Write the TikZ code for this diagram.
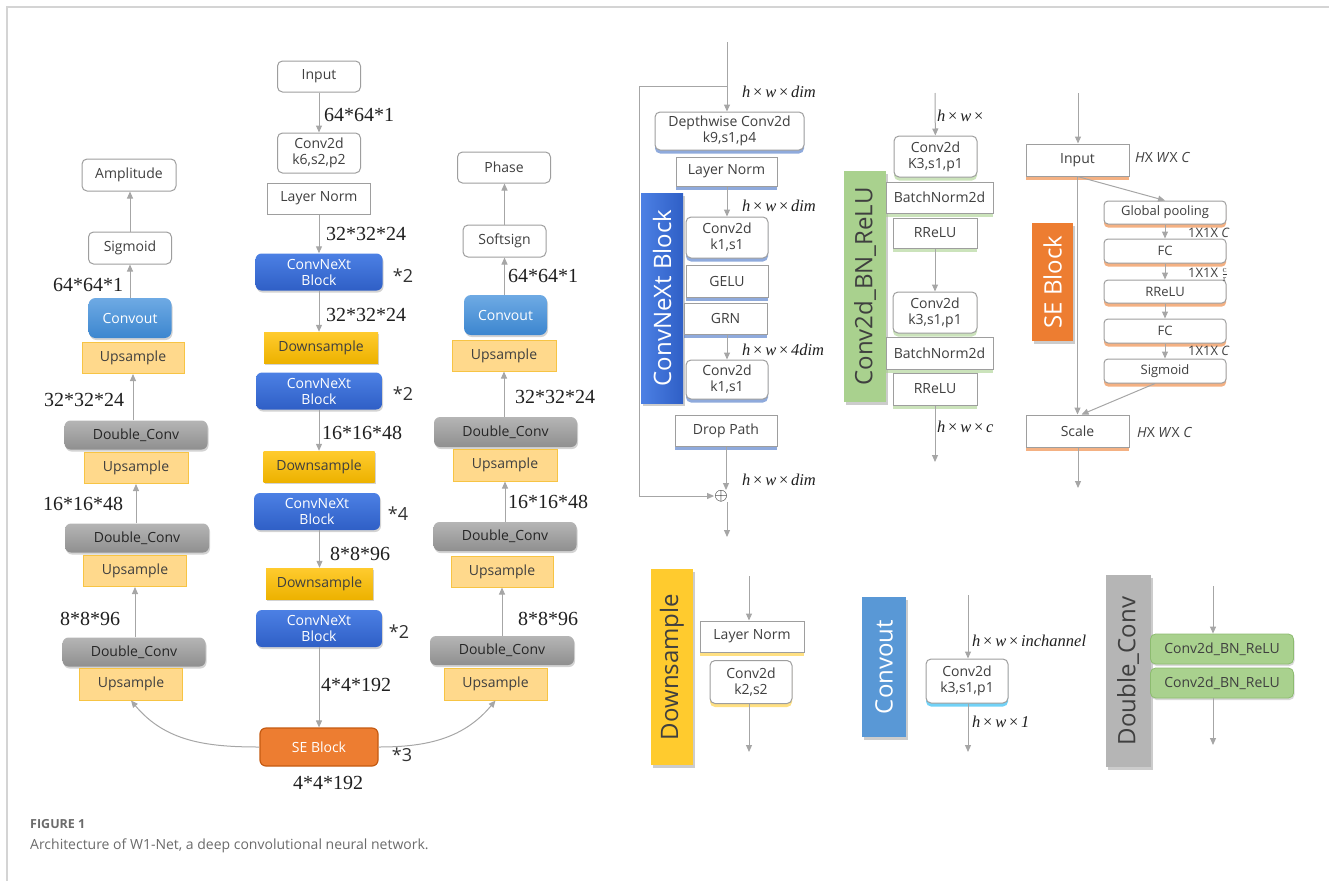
\documentclass[tikz,border=0pt]{standalone}
\usepackage{amsmath}
\usepackage{fontspec}
\setsansfont{Open Sans}
\newfontfamily\numfont{Liberation Serif}
\usepackage{tikz}
\usetikzlibrary{arrows.meta,shadows}
\definecolor{lineGray}{HTML}{A6A6A6}
\definecolor{edgeGray}{HTML}{9E9E9E}
\definecolor{frameGray}{HTML}{D4D4D4}
\definecolor{txtDark}{HTML}{3F3F3F}
\definecolor{capGray}{HTML}{6B6B6B}
\definecolor{upFill}{HTML}{FFD98C}
\definecolor{upEdge}{HTML}{F7C444}
\definecolor{dsTop}{HTML}{FFCB2E}
\definecolor{dsBot}{HTML}{EDB200}
\definecolor{cnTop}{HTML}{4C80E4}
\definecolor{cnBot}{HTML}{2F5FC6}
\definecolor{coTop}{HTML}{6EAAE4}
\definecolor{coBot}{HTML}{3C86CF}
\definecolor{dcTop}{HTML}{B5B5B5}
\definecolor{dcBot}{HTML}{8F8F8F}
\definecolor{seOrange}{HTML}{ED7D31}
\definecolor{seEdge}{HTML}{C55A11}
\definecolor{bnGreen}{HTML}{A9D18E}
\definecolor{bnEdge}{HTML}{8DBB70}
\definecolor{cxGlow}{HTML}{4472C4}
\definecolor{coGlow}{HTML}{12B4F2}
\newcommand{\boxfs}{\sffamily\fontsize{14}{16}\selectfont}
\newcommand{\smallfs}{\sffamily\fontsize{13}{15}\selectfont}
\newcommand{\numfs}{\numfont\fontsize{20}{22}\selectfont}
\newcommand{\repfs}{\sffamily\fontsize{18}{20}\selectfont}
\newcommand{\mathfs}{\numfont\itshape\fontsize{16.5}{18}\selectfont}
\newcommand{\barfs}{\sffamily\fontsize{24}{26}\selectfont}
\newcommand{\capfs}{\sffamily\fontsize{14}{16}\selectfont}
\newcommand{\tms}{\,{\upshape ×}\,}

\begin{document}
\begin{tikzpicture}[x=1pt,y=-1pt,
  every node/.style={inner sep=0pt},
  sz/.style 2 args={minimum width=#1,minimum height=#2},
  wbox/.style={draw=edgeGray,line width=1pt,fill=white,rounded corners=5pt,text=txtDark,font=\boxfs,align=center},
  sbox/.style={draw=edgeGray,line width=1pt,fill=white,text=txtDark,font=\boxfs,align=center},
  upbox/.style={draw=upEdge,line width=1pt,fill=upFill,text=txtDark,font=\boxfs},
  dsbox/.style={top color=dsTop,bottom color=dsBot,text=txtDark,font=\boxfs,
    drop shadow={opacity=.35,shadow xshift=1pt,shadow yshift=-2pt}},
  cnbox/.style={rounded corners=6pt,top color=cnTop,bottom color=cnBot,text=white,font=\boxfs,align=center,
    drop shadow={opacity=.35,shadow xshift=1pt,shadow yshift=-2pt}},
  cobox/.style={rounded corners=7pt,top color=coTop,bottom color=coBot,text=white,font=\boxfs,
    drop shadow={opacity=.35,shadow xshift=1pt,shadow yshift=-2pt}},
  dcbox/.style={rounded corners=6pt,top color=dcTop,bottom color=dcBot,text=black!85,font=\boxfs,
    drop shadow={opacity=.35,shadow xshift=1pt,shadow yshift=-2pt}},
  sebox/.style={rounded corners=6pt,fill=seOrange,draw=seEdge,line width=1.2pt,text=white,font=\boxfs},
  gbox/.style={rounded corners=5pt,fill=bnGreen,draw=bnEdge,line width=.8pt,text=txtDark,font=\boxfs,
    drop shadow={opacity=.3,shadow xshift=1pt,shadow yshift=-2pt}},
  glow/.style={drop shadow={fill=#1,opacity=.6,shadow xshift=0pt,shadow yshift=-3.5pt}},
  vbar/.style={rotate=90,font=\barfs,drop shadow={opacity=.4,shadow xshift=2pt,shadow yshift=-3pt}},
  numlbl/.style={font=\numfs,text=black!88},
  replbl/.style={font=\repfs,text=black!80},
  mlbl/.style={font=\mathfs,text=black!88,anchor=west},
  selbl/.style={font=\smallfs,text=txtDark,anchor=west},
  arr/.style={draw=lineGray,line width=1pt,-{Triangle[length=7pt,width=6pt]}}]
\useasboundingbox (0,0) rectangle (1329,881);
% frame
\draw[frameGray,line width=1.3pt] (1329,7)--(7,7)--(7,881);

% amplitude branch
\node[wbox,sz={94}{32}] (amp) at (129,175) {Amplitude};
\node[wbox,sz={83}{32}] (sgL) at (130,248) {Sigmoid};
\node[cobox,sz={83}{40}] (coL) at (130,318) {Convout};
\node[upbox,sz={102}{31}] (upL0) at (133,358) {Upsample};
\node[dcbox,sz={143}{29}] (dcL1) at (136,435) {Double\_Conv};
\node[upbox,sz={104}{31}] (upL1) at (136,468) {Upsample};
\node[dcbox,sz={144}{29}] (dcL2) at (137,538) {Double\_Conv};
\node[upbox,sz={103}{31}] (upL2) at (135,571) {Upsample};
\node[dcbox,sz={143}{29}] (dcL3) at (134,652) {Double\_Conv};
\node[upbox,sz={103}{32}] (upL3) at (131,684) {Upsample};
\draw[arr] (sgL.north) -- (sgL.north |- amp.south);
\draw[arr] (coL.north) -- (sgL.south);
\draw[arr] (upL0.south |- dcL1.north) -- (upL0.south);
\draw[arr] (upL1.south |- dcL2.north) -- (upL1.south);
\draw[arr] (upL2.south |- dcL3.north) -- (upL2.south);
\foreach \i/\x/\y/\t in {1/88/285/64*64*1, 2/84/400/32*32*24, 3/83/504/16*16*48, 4/90/619/8*8*96}
  \node[numlbl] (dL\i) at (\x,\y) {\t};

% encoder
\node[wbox,sz={83}{31}] (inp) at (319,76.5) {Input};
\node[wbox,sz={83}{40}] (cv0) at (319,153) {Conv2d\\k6,s2,p2};
\node[sbox,sz={103}{31}] (ln0) at (319,198.5) {Layer Norm};
\node[cnbox,sz={127}{37}] (cn1) at (319,272) {ConvNeXt\\Block};
\node[dsbox,sz={114}{31}] (ds1) at (321,347.5) {Downsample};
\node[cnbox,sz={126}{37}] (cn2) at (319,391) {ConvNeXt\\Block};
\node[dsbox,sz={111}{31}] (ds2) at (319,466.5) {Downsample};
\node[cnbox,sz={126}{37}] (cn3) at (317,511.5) {ConvNeXt\\Block};
\node[dsbox,sz={107}{31}] (ds3) at (319.5,583.5) {Downsample};
\node[cnbox,sz={126}{37}] (cn4) at (319,628.5) {ConvNeXt\\Block};
\node[sebox,sz={118}{38}] (se) at (319,747) {SE Block};
\draw[arr] (inp) -- (cv0);
\draw[arr] (ln0) -- (cn1);
\draw[arr] (cn1.south) -- (cn1.south |- ds1.north);
\draw[arr] (cn2.south) -- (cn2.south |- ds2.north);
\draw[arr] (ds3.north |- cn3.south) -- (ds3.north);
\draw[arr] (cn4) -- (se);
\foreach \i/\x/\y/\t in {1/359/115/64*64*1, 2/366/234/32*32*24, 3/366/315/32*32*24, 4/362/433/16*16*48,
    5/360/554/8*8*96, 6/356/685/4*4*192, 7/328/783/4*4*192}
  \node[numlbl] (dC\i) at (\x,\y) {\t};
\foreach \i/\x/\y/\t in {1/403/276/*2, 2/403/394/*2, 3/398/514/*4, 4/399/632/*2, 5/402/755/*3}
  \node[replbl] (rp\i) at (\x,\y) {\t};

% phase branch
\node[wbox,sz={93}{31}] (pha) at (504,167.5) {Phase};
\node[wbox,sz={83}{32}] (sgR) at (504.5,241) {Softsign};
\node[cobox,sz={83}{40}] (coR) at (505.5,315) {Convout};
\node[upbox,sz={104}{31}] (upR0) at (504,355.5) {Upsample};
\node[dcbox,sz={143}{30}] (dcR1) at (505.5,432) {Double\_Conv};
\node[upbox,sz={104}{32}] (upR1) at (505,465) {Upsample};
\node[dcbox,sz={143}{29}] (dcR2) at (505,536.5) {Double\_Conv};
\node[upbox,sz={102}{31}] (upR2) at (502,571.5) {Upsample};
\node[dcbox,sz={144}{29}] (dcR3) at (502,650.5) {Double\_Conv};
\node[upbox,sz={103}{32}] (upR3) at (495.5,684) {Upsample};
\draw[arr] (sgR.north) -- (sgR.north |- pha.south);
\draw[arr] (sgR.south |- coR.north) -- (sgR.south);
\draw[arr] (upR0.south |- dcR1.north) -- (upR0.south);
\draw[arr] (upR1.south |- dcR2.north) -- (upR1.south);
\draw[arr] (upR2.south |- dcR3.north) -- (upR2.south);
\foreach \i/\x/\y/\t in {1/543/276/64*64*1, 2/555/397/32*32*24, 3/548/502/16*16*48, 4/548/619/8*8*96}
  \node[numlbl] (dR\i) at (\x,\y) {\t};
% skip paths from SE block
\draw[arr] (se.west) to[out=180,in=-50] (upL3.south);
\draw[arr] (se.east) to[out=0,in=-130] (upR3.south);

% ConvNeXt block detail
\node[vbar,top color=cnTop,bottom color=cnBot,shading angle=90,text=white,sz={210}{42}] (cxBar) at (662,298) {ConvNeXt Block};
\coordinate (cxTop) at (727,42);
\coordinate (cxSkip) at (727,86);
\coordinate (cxCorner) at (639,86);
\node[wbox,glow=cxGlow,sz={149}{38}] (dw) at (729.5,131) {Depthwise Conv2d\\k9,s1,p4};
\node[sbox,glow=cxGlow,sz={101}{29}] (lnX) at (726.5,171.5) {Layer Norm};
\node[wbox,glow=cxGlow,sz={82}{41}] (c1X) at (727,237.5) {Conv2d\\k1,s1};
\node[sbox,glow=cxGlow,sz={82}{32}] (gelu) at (727,281) {GELU};
\node[sbox,glow=cxGlow,sz={83}{31}] (grn) at (725.5,318.5) {GRN};
\node[wbox,glow=cxGlow,sz={82}{39}] (c2X) at (727,379.5) {Conv2d\\k1,s1};
\node[sbox,glow=cxGlow,sz={102}{31}] (drop) at (726,430.5) {Drop Path};
\node[font=\fontsize{17.28}{18}\selectfont] (plus) at (721,496) {$\oplus$};
\coordinate (cxOut) at (727,537);
\draw[arr] (cxTop) -- (cxTop |- dw.north);
\draw[arr] (c1X.north |- lnX.south) -- (c1X.north);
\draw[arr] (c2X.north |- grn.south) -- (c2X.north);
\draw[arr] (drop.south) -- (drop.south |- plus.north);
\draw[arr] (cxSkip) -- (cxCorner) |- (plus.west);
\draw[arr] (cxOut |- plus.south) -- (cxOut);
\node[mlbl] (mx1) at (742,92) {h\tms w\tms dim};
\node[mlbl] (mx2) at (742,206) {h\tms w\tms dim};
\node[mlbl] (mx3) at (742,350) {h\tms w\tms 4dim};
\node[mlbl] (mx4) at (742,480) {h\tms w\tms dim};

% Conv2d_BN_ReLU detail
\node[vbar,fill=bnGreen,text=txtDark,sz={231}{42}] (bnBar) at (865,286.5) {Conv2d\_BN\_ReLU};
\coordinate (bnTop) at (935,93);
\node[wbox,glow=bnGreen,sz={83}{41}] (cb1) at (935.5,156.5) {Conv2d\\K3,s1,p1};
\node[sbox,glow=bnGreen,sz={107}{31}] (bn1) at (939.5,197.5) {BatchNorm2d};
\node[sbox,glow=bnGreen,sz={84}{30}] (rr1) at (935,233) {RReLU};
\node[wbox,glow=bnGreen,sz={84}{41}] (cb2) at (935,312.5) {Conv2d\\k3,s1,p1};
\node[sbox,glow=bnGreen,sz={107}{32}] (bn2) at (939.5,353) {BatchNorm2d};
\node[sbox,glow=bnGreen,sz={84}{32}] (rr2) at (935,389) {RReLU};
\coordinate (bnOut) at (935,462);
\draw[arr] (bnTop) -- (cb1);
\draw[arr] (rr1) -- (cb2);
\draw[arr] (rr2) -- (bnOut);
\node[mlbl] (mb1) at (937,116) {h\tms w\tms};
\node[mlbl] (mb2) at (937,427) {h\tms w\tms c};

% SE block detail
\node[vbar,fill=seOrange,text=white,sz={118}{41}] (seBar) at (1052.5,282) {SE Block};
\coordinate (seTop) at (1078,93);
\node[sbox,glow=seOrange,sz={103}{32}] (seIn) at (1077.5,160) {Input};
\node[wbox,rounded corners=4pt,font=\smallfs,glow=seOrange,sz={122}{23}] (gp) at (1165,212.5) {Global pooling};
\node[wbox,rounded corners=4pt,font=\smallfs,glow=seOrange,sz={122}{24}] (fc1) at (1165,251) {FC};
\node[wbox,rounded corners=4pt,font=\smallfs,glow=seOrange,sz={122}{23}] (rrS) at (1165,291.5) {RReLU};
\node[wbox,rounded corners=4pt,font=\smallfs,glow=seOrange,sz={122}{24}] (fc2) at (1165,331) {FC};
\node[wbox,rounded corners=4pt,font=\smallfs,glow=seOrange,sz={122}{24}] (sgS) at (1165,371) {Sigmoid};
\node[sbox,glow=seOrange,sz={103}{32}] (scl) at (1077.5,431) {Scale};
\coordinate (seOut) at (1078,488);
\draw[arr] (seTop) -- (seTop |- seIn.north);
\draw[arr] (seIn) -- (scl);
\draw[arr] (seIn.south) -- (gp.north);
\draw[arr] (gp) -- (fc1);
\draw[arr] (fc1) -- (rrS);
\draw[arr] (rrS) -- (fc2);
\draw[arr] (fc2) -- (sgS);
\draw[arr] ([xshift=-10pt]sgS.south) -- ([xshift=4pt]scl.north);
\draw[arr] (seOut |- scl.south) -- (seOut);
\node[selbl,font=\boxfs] (hs1) at (1135,157) {\textit{H}X \textit{W}X \textit{C}};
\node[selbl,font=\boxfs] (hs2) at (1137,432) {\textit{H}X \textit{W}X \textit{C}};
\node[selbl] (cs1) at (1188,233) {1X1X \textit{C}};
\node[selbl] (cs2) at (1188,275) {1X1X $\frac{\mathrm{c}}{\mathrm{r}}$};
\node[selbl] (cs3) at (1188,351) {1X1X \textit{C}};

% Downsample detail
\node[vbar,fill=dsTop,text=txtDark,sz={196}{42}] (dsBar) at (672,667) {Downsample};
\coordinate (dsTop) at (749,576);
\node[sbox,glow=dsTop,sz={104}{31}] (lnD) at (752,636.5) {Layer Norm};
\node[wbox,glow=dsTop,sz={82}{43}] (cvD) at (751,682) {Conv2d\\k2,s2};
\coordinate (dsOut) at (749,752);
\draw[arr] (dsTop) -- (dsTop |- lnD.north);
\draw[arr] (dsOut |- cvD.south) -- (dsOut);

% Convout detail
\node[vbar,fill=coBot!85!white,text=white,sz={140}{44}] (coBar) at (884,667) {Convout};
\coordinate (coTop) at (968,595);
\node[wbox,glow=coGlow,sz={82}{44}] (cvO) at (967,681) {Conv2d\\k3,s1,p1};
\coordinate (coOut) at (968,752);
\draw[arr] (coTop) -- (coTop |- cvO.north);
\draw[arr] (coOut |- cvO.south) -- (coOut);
\node[mlbl] (mo1) at (972,641) {h\tms w\tms inchannel};
\node[mlbl] (mo2) at (972,722) {h\tms w\tms 1};

% Double_Conv detail
\node[vbar,fill=dcTop,text=txtDark,sz={192}{45}] (dcBar) at (1128,671) {Double\_Conv};
\coordinate (dcTop) at (1213,586);
\node[gbox,sz={143}{30}] (g1) at (1222,649) {Conv2d\_BN\_ReLU};
\node[gbox,sz={143}{30}] (g2) at (1222,683) {Conv2d\_BN\_ReLU};
\coordinate (dcOut) at (1213,745);
\draw[arr] (dcTop) -- (dcTop |- g1.north);
\draw[arr] (dcOut |- g2.south) -- (dcOut);

% caption
\node[anchor=west,font=\sffamily\fontsize{12.5}{14}\selectfont\bfseries,text=capGray] (figNo) at (30,824) {FIGURE 1};
\node[anchor=west,font=\capfs,text=capGray] (figCap) at (30,846) {Architecture of W1-Net, a deep convolutional neural network.};
\end{tikzpicture}
\end{document}
